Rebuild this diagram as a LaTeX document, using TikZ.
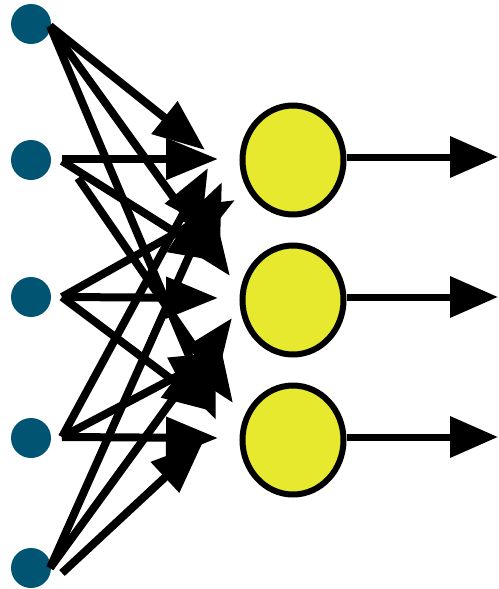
\documentclass[tikz,border=0pt]{standalone}
\usetikzlibrary{arrows.meta,shapes.geometric,calc}
\definecolor{dotblue}{RGB}{2,84,115}
\definecolor{neuron}{RGB}{230,233,46}
\begin{document}
\begin{tikzpicture}[x=1pt,y=-1pt,
  inp/.style={circle,fill=dotblue,minimum size=40pt,inner sep=0pt},
  neur/.style={ellipse,draw=black,fill=neuron,line width=6pt,minimum width=101pt,minimum height=109pt,inner sep=0pt},
  wire/.style={line width=8pt,-{Triangle[length=52pt,width=40pt]}},
  outw/.style={line width=7pt,-{Triangle[length=48pt,width=40pt]}}]
\useasboundingbox (0,0) rectangle (498,589);
% inputs
\node[inp] (i1) at (31,24) {};
\node[inp] (i2) at (31,160) {};
\node[inp] (i3) at (31,297) {};
\node[inp] (i4) at (31,438) {};
\node[inp] (i5) at (31,568) {};
% neurons
\node[neur] (n1) at (293,160) {};
\node[neur] (n2) at (293,300) {};
\node[neur] (n3) at (293,440) {};
% start points
\coordinate (s1) at (50,26);
\coordinate (s2a) at (62,159);
\coordinate (s2b) at (62,161);
\coordinate (s2c) at (78,178);
\coordinate (s3) at (62,297);
\coordinate (s4) at (62,437);
\coordinate (s5a) at (50,568);
\coordinate (s5b) at (62,573);
% tips
\coordinate (t11) at (205,150);
\coordinate (t12) at (230,276);
\coordinate (t13) at (216,420);
\coordinate (t21) at (218,159);
\coordinate (t22) at (222,262);
\coordinate (t23) at (233,403);
\coordinate (t31) at (235,200);
\coordinate (t32) at (218,298);
\coordinate (t33) at (215,412);
\coordinate (t41) at (208,168);
\coordinate (t42) at (223,352);
\coordinate (t43) at (218,438);
\coordinate (t51) at (222,182);
\coordinate (t52) at (232,318);
\coordinate (t53) at (203,442);
% wires
\draw[wire] (s1) -- (t11);
\draw[wire] (s1) -- (t12);
\draw[wire] (s1) -- (t13);
\draw[wire] (s2a) -- (t21);
\draw[wire] (s2b) -- (t22);
\draw[wire] (s2c) -- (t23);
\draw[wire] (s3) -- (t31);
\draw[wire] (s3) -- (t32);
\draw[wire] (s3) -- (t33);
\draw[wire] (s4) -- (t41);
\draw[wire] (s4) -- (t42);
\draw[wire] (s4) -- (t43);
\draw[wire] (s5a) -- (t51);
\draw[wire] (s5a) -- (t52);
\draw[wire] (s5b) -- (t53);
% outputs
\coordinate (o1) at (498,157);
\coordinate (o2) at (498,297);
\coordinate (o3) at (498,437);
\draw[outw] (n1.east |- o1) -- (o1);
\draw[outw] (n2.east |- o2) -- (o2);
\draw[outw] (n3.east |- o3) -- (o3);
\end{tikzpicture}
\end{document}
